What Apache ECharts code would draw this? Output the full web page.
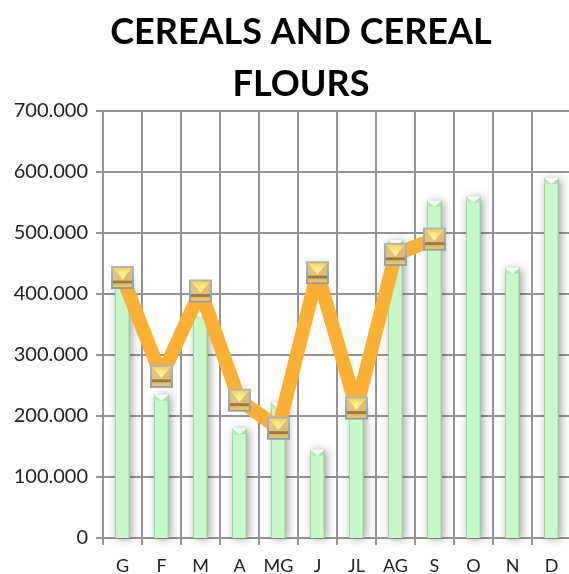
<!DOCTYPE html>
<html><head><meta charset="utf-8">
<style>html,body{margin:0;padding:0;background:#fff;overflow:hidden}#c{width:569px;height:574px}</style>
<script src="https://cdn.jsdelivr.net/npm/echarts@6/dist/echarts.min.js"></script>
</head><body><div id="c"></div>
<script>
const categories = ['G','F','M','A','MG','J','JL','AG','S','O','N','D'];
const barValues = [425000,235000,370000,180000,222000,145000,215000,488000,553000,560000,443000,590000];
const lineValues = [427000,265000,405000,226000,180000,435000,213000,465000,490000];
const yTicks = {min:0,max:700000,interval:100000};
const titleLines = 'CEREALS AND CEREAL\nFLOURS';

const grey = '#949494';
const fmt = v => v === 0 ? '0' : (v/1000).toFixed(0) + '.000';

function barBevel(params, api){
  const x = api.coord([api.value(0),0])[0];
  const yTop = api.coord([0,api.value(1)])[1];
  const hw = 7.5, d = 6;
  return {type:'group',silent:true,children:[
    {type:'polygon',shape:{points:[[x-hw,yTop],[x+hw,yTop],[x,yTop+d]]},style:{fill:'#f8fff8'}},
    {type:'polygon',shape:{points:[[x-hw,yTop],[x,yTop+d],[x-hw,yTop+d]]},style:{fill:'#b4e4b6',opacity:0.7}},
    {type:'polygon',shape:{points:[[x+hw,yTop],[x,yTop+d],[x+hw,yTop+d]]},style:{fill:'#a0d4a3',opacity:0.7}}
  ]};
}
function marker(params, api){
  const p = api.coord([api.value(0),api.value(1)]);
  const cx = p[0], cy = p[1], h = 11.5, i = 9.5;
  const L=cx-i,R=cx+i,T=cy-i;
  return {type:'group',silent:true,children:[
    {type:'rect',shape:{x:cx-h,y:cy-h,width:2*h,height:2*h},style:{fill:new echarts.graphic.LinearGradient(0,0,0,1,[
      {offset:0,color:'#aab4c4'},{offset:1,color:'#8f9bb0'}])}},
    {type:'rect',shape:{x:L,y:T,width:2*i,height:2*i},style:{fill:'#e6c46c'}},
    {type:'polygon',shape:{points:[[L,T],[R,T],[cx,cy+2]]},style:{fill:new echarts.graphic.LinearGradient(0,0,0,1,[
      {offset:0,color:'#ffd050'},{offset:0.4,color:'#ffe888'},{offset:1,color:'#fff4a0'}])}},
    {type:'polygon',shape:{points:[[L,T],[cx,cy+2],[L,cy+3]]},style:{fill:'#e2c47e'}},
    {type:'polygon',shape:{points:[[R,T],[cx,cy+2],[R,cy+3]]},style:{fill:'#dcbc74'}},
    {type:'rect',shape:{x:L,y:cy+3,width:2*i,height:3},style:{fill:'#9a7c4c'}},
    {type:'rect',shape:{x:L,y:cy+6,width:2*i,height:3.5},style:{fill:new echarts.graphic.LinearGradient(0,0,0,1,[
      {offset:0,color:'#d8b560'},{offset:1,color:'#f5cc5c'}])}}
  ]};
}

const chart = echarts.init(document.getElementById('c'),null,{renderer:'canvas'});
chart.setOption({
  animation:false,
  backgroundColor:'#fff',
  title:{text:titleLines,left:296,top:1,textAlign:'center',
    textStyle:{fontFamily:'Lato',fontWeight:'bold',fontSize:36,lineHeight:52,color:'#000'}},
  grid:{left:103,right:-2,top:111,bottom:36,containLabel:false,outerBoundsMode:'none'},
  xAxis:{type:'category',data:categories,boundaryGap:true,
    axisLine:{lineStyle:{color:grey,width:2}},
    axisTick:{show:true,alignWithLabel:false,length:7,lineStyle:{color:grey,width:2}},
    axisLabel:{fontFamily:'Lato',fontSize:18,color:'#222',margin:19},
    splitLine:{show:true,lineStyle:{color:grey,width:2}}},
  yAxis:{type:'value',min:yTicks.min,max:yTicks.max,interval:yTicks.interval,
    axisLine:{show:true,lineStyle:{color:grey,width:2}},
    axisTick:{show:true,length:7,lineStyle:{color:grey,width:2}},
    axisLabel:{fontFamily:'Lato',fontSize:20,color:'#222',margin:15,formatter:fmt},
    splitLine:{show:true,lineStyle:{color:grey,width:2}}},
  series:[
    {type:'bar',data:barValues,barWidth:15,z:2,
      itemStyle:{color:new echarts.graphic.LinearGradient(0,0,1,0,[
        {offset:0,color:'#8fc493'},{offset:0.1,color:'#c6f8c8'},{offset:0.85,color:'#c8fac9'},{offset:1,color:'#8fbf92'}]),
        shadowColor:'rgba(50,50,50,0.45)',shadowBlur:9,shadowOffsetX:2,shadowOffsetY:1}},
    {type:'custom',renderItem:barBevel,data:barValues.map((v,i)=>[i,v]),z:3,encode:{x:0,y:1}},
    {type:'line',data:lineValues,symbol:'none',z:4,lineStyle:{color:'#fbb034',width:14,join:'bevel'}},
    {type:'custom',renderItem:marker,data:lineValues.map((v,i)=>[i,v]),z:5,encode:{x:0,y:1}}
  ]
});
</script></body></html>
